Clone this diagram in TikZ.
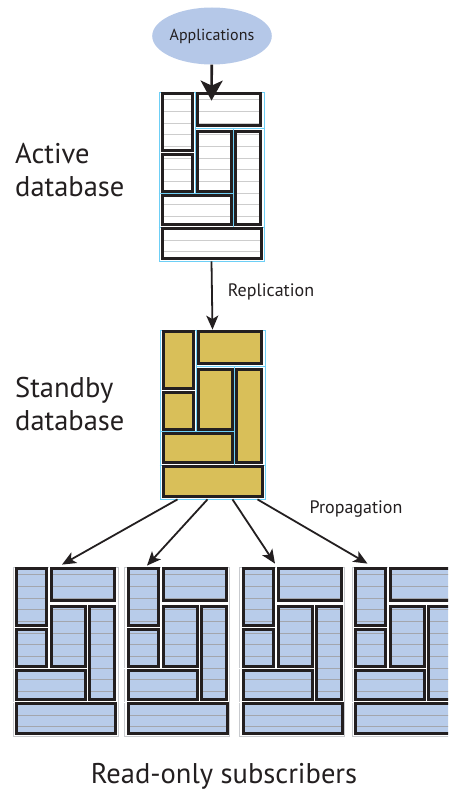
\documentclass[tikz,border=0pt]{standalone}
\usepackage{fontspec}
\setmainfont{PT Sans}
\usetikzlibrary{shapes.geometric,arrows.meta,positioning}
\definecolor{inkgray}{HTML}{231F20}
\definecolor{appblue}{HTML}{B5C8E8}
\definecolor{subblue}{HTML}{B8CCEA}
\definecolor{standbygold}{HTML}{D9BF59}
\definecolor{framecyan}{HTML}{6DCFF6}
\definecolor{stripegray}{HTML}{CDCDCD}
\definecolor{stripedark}{HTML}{A3A6AD}

\begin{document}
\begin{tikzpicture}[
    x=1pt, y=-1pt,
    every node/.style={text=inkgray},
    dbframe/.style={draw=#1, line width=0.8, minimum width=105, minimum height=169, inner sep=0},
    cell/.style={draw=inkgray, line width=2.8},
    flow/.style={draw=inkgray, line width=1.8, -{Stealth[length=14,width=12,inset=3.5]}},
    bigflow/.style={draw=inkgray, line width=2.6, -{Stealth[length=20,width=22,inset=5]}},
    heading/.style={font=\fontsize{28.5}{33}\selectfont, align=left, anchor=west, inner sep=0},
    caption/.style={font=\fontsize{18}{20}\selectfont, inner sep=0},
    pics/dbblock/.style n args={3}{code={
      % group separators
      \draw[#3, line width=0.8] (37,0) -- (37,103) (37,37) -- (105,37)
        (0,102) -- (75,102) (75,37) -- (75,136) (0,136) -- (105,136);
      \foreach \ax/\ay/\bx/\by in {4/2/34/59, 39/2/102/34, 4/63/34/100, 39/40/73/100,
          77/40/102/133, 4/104/73/133, 4/137/103/167}{
        \fill[#1] (\ax,\ay) rectangle (\bx,\by);
        \begin{scope}
          \clip (\ax,\ay) rectangle (\bx,\by);
          \foreach \sy in {8,19.7,...,168}
            \draw[#2, line width=1] (\ax,\sy) -- (\bx,\sy);
        \end{scope}
        \draw[cell] (\ax,\ay) rectangle (\bx,\by);
      }
    }}
  ]
  \useasboundingbox (0,0) rectangle (448,792);
  \clip (0,0) rectangle (448,792);

  % applications and the two databases
  \node[fill=appblue, ellipse, minimum width=114, minimum height=57, inner sep=0,
        font=\fontsize{16}{18}\selectfont] (apps) at (212,36) {Applications};
  \node[dbframe=framecyan] (active) at (211.5,176.5) {};
  \pic at (active.north west) {dbblock={white}{stripegray}{framecyan}};
  \node[dbframe=framecyan] (standby) at (212.5,414.5) {};
  \pic at (standby.north west) {dbblock={standbygold}{standbygold}{framecyan}};

  % subscribers
  \foreach \sx [count=\si] in {65.5,177,292,404.5}{
    \node[dbframe=stripedark!60] (sub\si) at (\sx,651.5) {};
    \pic at (sub\si.north west) {dbblock={subblue}{stripedark}{white}};
  }

  % labels
  \node[heading] (activelabel) at (15,170) {Active\\database};
  \node[heading] (standbylabel) at (15,404) {Standby\\database};
  \node[caption] (repl) at (271,292) {Replication};
  \node[caption] (prop) at (356,509) {Propagation};
  \node[inner sep=0, font=\fontsize{28.5}{30}\selectfont] (subs) at (224,776) {Read-only subscribers};

  % arrows
  \draw[bigflow] (apps) -- ([yshift=-9]active.north);
  \draw[flow] (active.south) -- (standby.north);
  \draw[flow] ([xshift=-35]standby.south) -- ([xshift=-3.5,yshift=2]sub1.north);
  \draw[flow] ([xshift=-5]standby.south) -- ([xshift=-30,yshift=1]sub2.north);
  \draw[flow] ([xshift=20]standby.south) -- ([xshift=-17,yshift=3]sub3.north);
  \draw[flow] ([xshift=45]standby.south) -- ([xshift=-37,yshift=3]sub4.north);
\end{tikzpicture}
\end{document}
